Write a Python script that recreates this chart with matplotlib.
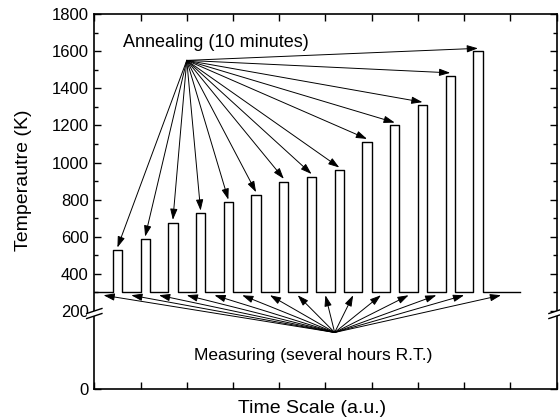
import matplotlib
matplotlib.use("Agg")
import matplotlib.pyplot as plt
import numpy as np
from matplotlib.ticker import FixedLocator, NullFormatter

plt.rcParams['font.family'] = ['Liberation Sans', 'DejaVu Sans']

# annealing pulses (time in a.u., temperature in K)
pulse_start = [0.4, 1.0, 1.6, 2.2, 2.8, 3.4, 4.0, 4.6, 5.2, 5.8, 6.4, 7.0, 7.6, 8.2]
pulse_len = 0.2
pulse_temp = [527, 586, 676, 726, 785, 825, 897, 923, 958, 1112, 1200, 1310, 1468, 1600]
room_temp = 300
t_end = 9.2

anneal_label = "Annealing (10 minutes)"
anneal_src = (2.0, 1550)
anneal_text_pos = (2.62, 1645)
measure_label = "Measuring (several hours R.T.)"
measure_src = (5.2, 145)
measure_text_pos = (4.73, 85)

y_major = [0, 200, 400, 600, 800, 1000, 1200, 1400, 1600, 1800]
y_minor = [300, 500, 700, 900, 1100, 1300, 1500, 1700]
y_break = 200
y_squeeze = 2.1


def fwd(v):
    v = np.asarray(v, dtype=float)
    return np.where(v >= y_break, v, y_break + (v - y_break) * y_squeeze)


def inv(t):
    t = np.asarray(t, dtype=float)
    return np.where(t >= y_break, t, y_break + (t - y_break) / y_squeeze)


# step profile of the temperature history
xs, ys = [0.0], [room_temp]
for s, h in zip(pulse_start, pulse_temp):
    xs += [s, s, s + pulse_len, s + pulse_len]
    ys += [room_temp, h, h, room_temp]
xs.append(t_end)
ys.append(room_temp)

fig = plt.figure(figsize=(5.6, 4.2), dpi=100)
ax = fig.add_axes([0.1684, 0.0738, 0.8254, 0.8929])
ax.set_yscale('function', functions=(fwd, inv))
ax.set_xlim(0, 10)
ax.set_ylim(0, 1800)

ax.plot(xs, ys, color='k', lw=1.0)

arrow = dict(arrowstyle='-|>,head_length=0.6,head_width=0.2', color='k',
             lw=0.7, mutation_scale=11, shrinkA=0, shrinkB=0)

# annealing arrows to the top of each pulse
for s, h in zip(pulse_start, pulse_temp):
    ax.annotate('', xy=(s + pulse_len / 2, h + 15), xytext=anneal_src,
                arrowprops=arrow)
ax.text(*anneal_text_pos, anneal_label, ha='center', va='center', fontsize=13)

# measuring arrows to each room-temperature segment
seg_lo = [0.0] + [s + pulse_len for s in pulse_start]
seg_hi = pulse_start + [t_end]
for a, b in zip(seg_lo, seg_hi):
    ax.annotate('', xy=((a + b) / 2, room_temp - 15), xytext=measure_src,
                arrowprops=arrow)
ax.text(*measure_text_pos, measure_label, ha='center', va='center',
        fontsize=12.5)

ax.yaxis.set_major_locator(FixedLocator(y_major))
ax.yaxis.set_minor_locator(FixedLocator(y_minor))
ax.yaxis.set_minor_formatter(NullFormatter())
ax.xaxis.set_major_locator(FixedLocator(range(11)))
ax.xaxis.set_minor_locator(FixedLocator([]))
ax.set_xticklabels([])
ax.tick_params(which='both', direction='in', top=True, right=True, width=1.0)
ax.tick_params(which='major', length=5, labelsize=12, pad=4)
ax.tick_params(which='minor', length=3)
for sp in ax.spines.values():
    sp.set_linewidth(1.2)

ax.set_xlabel('Time Scale (a.u.)', fontsize=14, x=0.4706, labelpad=4)
ax.set_ylabel('Temperautre (K)', fontsize=14, y=0.557, labelpad=14)

# axis break marks on both sides
yc = 0.2013
dx, dy, gap = 0.0165, 0.0067, 0.0067
for xc in (0.0, 1.0):
    px = [xc - dx, xc + dx, xc + dx, xc - dx]
    py = [yc - dy + gap, yc + dy + gap, yc + dy - gap, yc - dy - gap]
    ax.fill(px, py, color='white', transform=ax.transAxes, clip_on=False,
            zorder=5, lw=0)
    for off in (gap, -gap):
        ax.plot([xc - dx, xc + dx], [yc - dy + off, yc + dy + off], color='k',
                lw=1.0, transform=ax.transAxes, clip_on=False, zorder=6)

fig.savefig('out.png', dpi=100)
